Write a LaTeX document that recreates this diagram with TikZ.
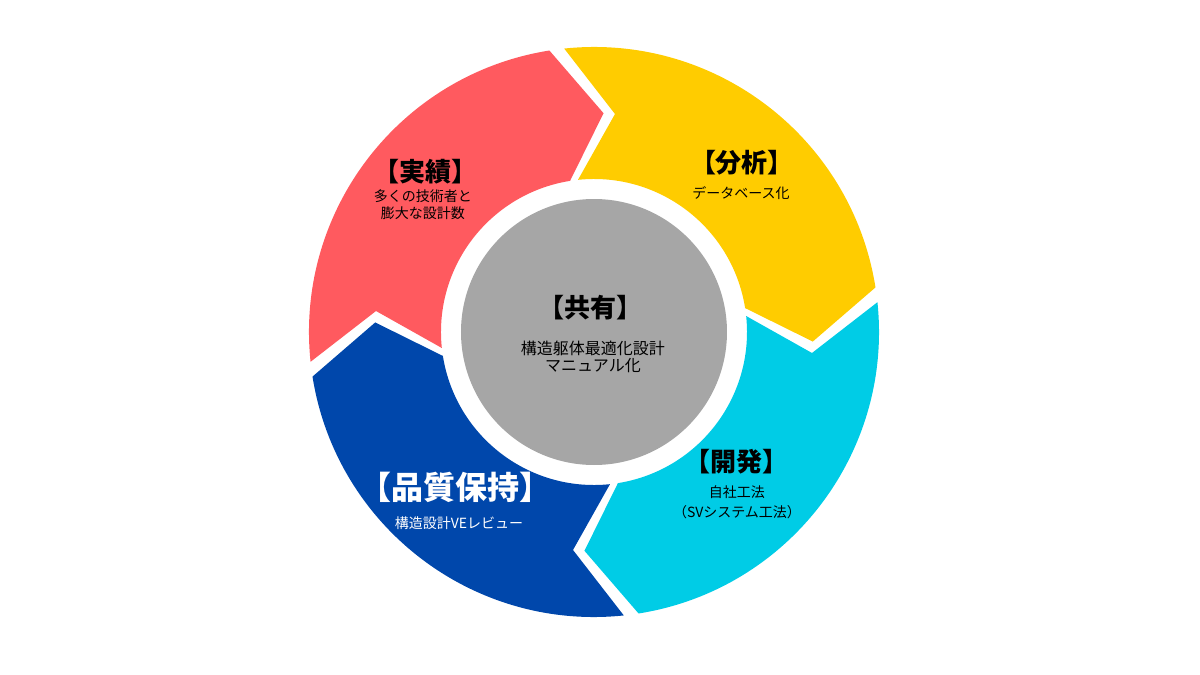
\documentclass[tikz,border=0pt]{standalone}
\usepackage{fontspec}
\newfontfamily\jpfont{Noto Sans CJK JP}
\usetikzlibrary{positioning}
\definecolor{SegRed}{HTML}{FF5A5F}
\definecolor{SegYellow}{HTML}{FFCC00}
\definecolor{SegCyan}{HTML}{00CCE6}
\definecolor{SegBlue}{HTML}{0047AB}
\definecolor{Hub}{HTML}{A6A6A6}
\tikzset{
    titlenode/.style={align=center, inner sep=0pt, font=\jpfont\bfseries\fontsize{26}{30}\selectfont},
    subnode/.style={align=center, inner sep=0pt, font=\jpfont\fontsize{14}{17}\selectfont},
    hubnode/.style={circle, fill=Hub, minimum size=266pt, inner sep=0pt},
}

\begin{document}
\begin{tikzpicture}[x=1pt, y=1pt]
    \useasboundingbox (-594,-343) rectangle (606,332);

    % 1. Anello (quattro frecce curve, senso orario)
    \foreach \col/\a in {SegRed/186, SegYellow/96, SegCyan/6, SegBlue/-84}{
        \fill[\col] (\a:285pt) arc[start angle=\a, delta angle=-87, radius=285pt]
            -- ({\a-98.5}:219pt) -- ({\a-87}:153pt)
            arc[start angle={\a-87}, delta angle=87, radius=153pt]
            -- ({\a-11.5}:219pt) -- cycle;
    }

    % 2. Cerchio centrale
    \node[hubnode] (hub) at (0,0) {};
    \node[titlenode] (hubtitle) at (-3,24) {【共有】};
    \node[subnode, font=\jpfont\fontsize{16}{17}\selectfont] (hubtext) at (-1,-25) {構造躯体最適化設計\\マニュアル化};

    % 3. Testi dei segmenti
    \node[titlenode] (jtitle) at (-168,160) {【実績】};
    \node[subnode] (jtext) at (-171,127) {多くの技術者と\\膨大な設計数};

    \node[titlenode] (btitle) at (148,169) {【分析】};
    \node[subnode] (btext) at (147,139) {データベース化};

    \node[titlenode] (ktitle) at (143,-130) {【開発】};
    \node[subnode, font=\jpfont\fontsize{14}{20}\selectfont] (ktext) at (143,-170) {自社工法\\（SVシステム工法）};

    \node[titlenode, text=white, font=\jpfont\bfseries\fontsize{32}{36}\selectfont] (htitle) at (-138,-155) {【品質保持】};
    \node[subnode, text=white] (htext) at (-135,-191) {構造設計VEレビュー};
\end{tikzpicture}
\end{document}
